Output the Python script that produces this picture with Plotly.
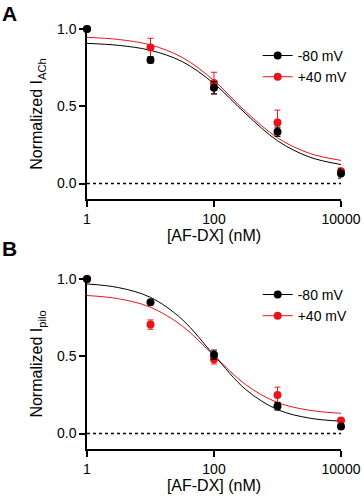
import plotly.graph_objects as go

# ---------------- data ----------------
conc = [1, 10, 100, 1000, 10000]  # [AF-DX] (nM)

# Panel A (Normalized I_ACh)
a_m80 = [1.00, 0.80, 0.62, 0.335, 0.065]
a_m80_err = [0.0, 0.02, 0.04, 0.03, 0.03]
a_p40 = [1.00, 0.88, 0.65, 0.395, 0.08]
a_p40_err = [0.0, 0.06, 0.07, 0.08, 0.02]

# Panel B (Normalized I_pilo)
b_m80 = [1.00, 0.85, 0.51, 0.177, 0.045]
b_m80_err = [0.0, 0.01, 0.03, 0.025, 0.01]
b_p40 = [1.00, 0.705, 0.48, 0.25, 0.085]
b_p40_err = [0.0, 0.03, 0.03, 0.05, 0.01]

# fitted curves at half-decade steps
curve_x = [1, 3.16, 10, 31.6, 100, 316, 1000, 3162, 10000]
a_m80_fit = [0.907, 0.894, 0.862, 0.789, 0.647, 0.452, 0.277, 0.172, 0.123]
a_p40_fit = [0.946, 0.932, 0.897, 0.816, 0.666, 0.466, 0.296, 0.196, 0.150]
b_m80_fit = [0.968, 0.944, 0.881, 0.738, 0.507, 0.285, 0.155, 0.100, 0.080]
b_p40_fit = [0.893, 0.872, 0.817, 0.696, 0.504, 0.316, 0.201, 0.151, 0.131]

series_names = ["-80 mV", "+40 mV"]
x_ticks = [1, 100, 10000]
x_tick_text = ["1", "100", "10000"]
y_ticks = [0, 0.5, 1.0]
y_tick_text = ["0.0", "0.5", "1.0"]

BLACK = "#000000"
RED = "#e8141a"
FONT = "Liberation Sans, Arial, sans-serif"

fig = go.Figure()

panels = [
    ("x", "y", a_m80, a_m80_err, a_p40, a_p40_err, a_m80_fit, a_p40_fit, "legend"),
    ("x2", "y2", b_m80, b_m80_err, b_p40, b_p40_err, b_m80_fit, b_p40_fit, "legend2"),
]

for xa, ya, m80, m80e, p40, p40e, m80f, p40f, lg in panels:
    # curves
    fig.add_trace(go.Scatter(x=curve_x, y=p40f, mode="lines", line=dict(color=RED, width=1, shape="spline"),
                             xaxis=xa, yaxis=ya, showlegend=False, hoverinfo="skip"))
    fig.add_trace(go.Scatter(x=curve_x, y=m80f, mode="lines", line=dict(color=BLACK, width=1, shape="spline"),
                             xaxis=xa, yaxis=ya, showlegend=False, hoverinfo="skip"))
    # points (red under black)
    fig.add_trace(go.Scatter(x=conc, y=p40, mode="markers", marker=dict(color=RED, size=8),
                             error_y=dict(type="data", array=p40e, color=RED, thickness=1, width=3),
                             xaxis=xa, yaxis=ya, showlegend=False, cliponaxis=False))
    fig.add_trace(go.Scatter(x=conc, y=m80, mode="markers", marker=dict(color=BLACK, size=8),
                             error_y=dict(type="data", array=m80e, color=BLACK, thickness=1, width=3),
                             xaxis=xa, yaxis=ya, showlegend=False, cliponaxis=False))
    # legend entries
    fig.add_trace(go.Scatter(x=[None], y=[None], mode="lines+markers", name=series_names[0],
                             line=dict(color=BLACK, width=1), marker=dict(color=BLACK, size=8),
                             xaxis=xa, yaxis=ya, legend=lg))
    fig.add_trace(go.Scatter(x=[None], y=[None], mode="lines+markers", name=series_names[1],
                             line=dict(color=RED, width=1), marker=dict(color=RED, size=8),
                             xaxis=xa, yaxis=ya, legend=lg))

axis_common = dict(showgrid=False, zeroline=False, showline=True, linecolor=BLACK, linewidth=1.5,
                   ticks="outside", ticklen=6, tickwidth=1.5, tickcolor=BLACK,
                   tickfont=dict(family=FONT, size=14, color=BLACK))

xaxis_cfg = dict(axis_common, type="log", range=[0, 4], tickvals=x_ticks, ticktext=x_tick_text,
                 title=dict(text="[AF-DX] (nM)", font=dict(family=FONT, size=16, color=BLACK), standoff=4))
yaxis_cfg = dict(axis_common, range=[-0.1, 1.0], tickvals=y_ticks, ticktext=y_tick_text)

fig.update_layout(
    width=364, height=500,
    margin=dict(l=87, r=23, t=29, b=51, autoexpand=False),
    paper_bgcolor="white", plot_bgcolor="white",
    font=dict(family=FONT, size=14, color=BLACK),
    xaxis=dict(xaxis_cfg, domain=[0, 1], anchor="y"),
    yaxis=dict(yaxis_cfg, domain=[0.5952, 1], anchor="x",
               title=dict(text="Normalized I<sub>ACh</sub>", font=dict(family=FONT, size=16, color=BLACK), standoff=10)),
    xaxis2=dict(xaxis_cfg, domain=[0, 1], anchor="y2"),
    yaxis2=dict(yaxis_cfg, domain=[0, 0.4048], anchor="x2",
                title=dict(text="Normalized I<sub>pilo</sub>", font=dict(family=FONT, size=16, color=BLACK), standoff=10)),
    legend=dict(x=0.672, y=0.974, xanchor="left", yanchor="top", bgcolor="rgba(0,0,0,0)",
                font=dict(family=FONT, size=14, color=BLACK), itemwidth=30, tracegroupgap=0),
    legend2=dict(x=0.672, y=0.405, xanchor="left", yanchor="top", bgcolor="rgba(0,0,0,0)",
                 font=dict(family=FONT, size=14, color=BLACK), itemwidth=30, tracegroupgap=0),
    showlegend=True,
)

# dotted zero lines
for xr, yr in [("x", "y"), ("x2", "y2")]:
    fig.add_shape(type="line", xref=xr, yref=yr, x0=1, x1=10000, y0=0, y1=0,
                  line=dict(color=BLACK, width=1.5, dash="dot"))

# panel letters
fig.add_annotation(text="<b>A</b>", xref="paper", yref="paper", x=-0.341, y=1.069, xanchor="left", yanchor="top",
                   showarrow=False, font=dict(family=FONT, size=21, color=BLACK))
fig.add_annotation(text="<b>B</b>", xref="paper", yref="paper", x=-0.341, y=0.51, xanchor="left", yanchor="top",
                   showarrow=False, font=dict(family=FONT, size=21, color=BLACK))

# remove the default page margin so the figure sits at the window's corner
fig.write_html("out.html", config={"displayModeBar": False},
               post_script="document.body.style.margin='0px';")
